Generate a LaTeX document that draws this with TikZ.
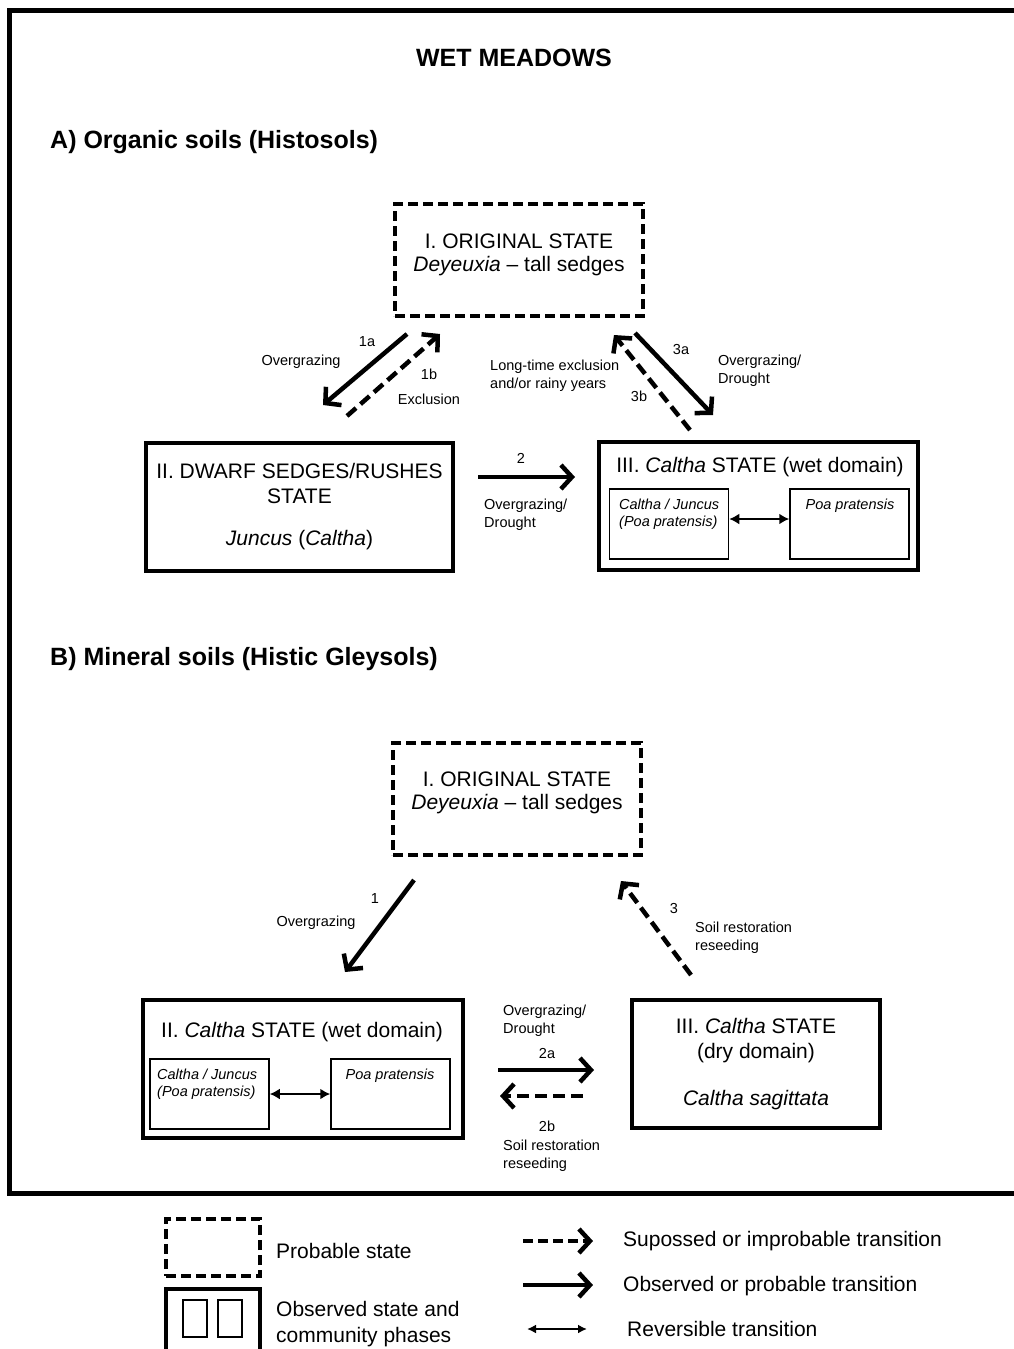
\documentclass[tikz,border=0pt]{standalone}
\usepackage{fontspec}
\setmainfont{Liberation Sans}
\usetikzlibrary{arrows.meta}

\newcommand{\headfont}{\fontsize{25}{30}\selectfont\bfseries}
\newcommand{\statefont}{\fontsize{21}{25}\selectfont}
\newcommand{\lblfont}{\fontsize{14.5}{18}\selectfont}
\newcommand{\phasefont}{\fontsize{14.5}{17}\selectfont\itshape}
\newcommand{\keyfont}{\fontsize{21}{26}\selectfont}

\tikzset{
    probable/.style={draw, line width=4pt, dash pattern=on 10pt off 5pt,
        minimum width=248pt, minimum height=112pt},
    observed/.style={draw, line width=4pt, align=center, font=\statefont},
    phase/.style={draw, line width=1.5pt, minimum width=119pt, minimum height=70pt},
    statetxt/.style={font=\fontsize{21}{23}\selectfont, inner sep=0pt, align=center},
    trans/.style={line width=4.5pt, -{Straight Barb[length=11pt,width=24pt]}},
    supposed/.style={trans, dash pattern=on 12pt off 6pt},
    reversible/.style={line width=2.5pt, {Latex[length=10pt,width=11pt]}-{Latex[length=10pt,width=11pt]}},
    lbl/.style={font=\lblfont, inner sep=0pt, align=left},
    phasetxt/.style={font=\phasefont, inner sep=0pt, align=left},
    keytxt/.style={font=\keyfont, inner sep=0pt, align=left, anchor=west},
}

\begin{document}
\begin{tikzpicture}[x=1pt, y=-1pt]
    \useasboundingbox (0,0) rectangle (1014,1349);
    \clip (0,0) rectangle (1014,1349);
    \draw[line width=4.5pt] (9.5,10.5) rectangle (1040,1193.5);

    \node[font=\headfont, inner sep=0pt] (title) at (514,58) {WET MEADOWS};
    \node[font=\headfont, inner sep=0pt, anchor=west] (headA) at (50,142) {A) Organic soils (Histosols)};
    \node[font=\headfont, inner sep=0pt, anchor=west] (headB) at (50,659) {B) Mineral soils (Histic Gleysols)};

    % A) states
    \node[probable] (a*I) at (519,260) {};
    \node[statetxt] (a*It) at (519,255) {I. ORIGINAL STATE\\\textit{Deyeuxia} -- tall sedges};
    \node[observed, minimum width=307pt, minimum height=128pt] (a*II) at (299.5,507)
        {II. DWARF SEDGES/RUSHES\\STATE\\[17pt]\textit{Juncus} (\textit{Caltha})};
    \node[observed, minimum width=319pt, minimum height=128pt] (a*III) at (758.5,506) {};
    \node[font=\statefont, inner sep=0pt] (a*IIIt) at (760,467) {III. \textit{Caltha} STATE (wet domain)};
    \node[phase] (a*IIIa) at (669,524) {};
    \node[phase] (a*IIIb) at (849.5,524) {};
    \node[phasetxt, anchor=north west] (a*IIIat) at (619,499) {Caltha / Juncus\\(Poa pratensis)};
    \node[phasetxt] (a*IIIbt) at (850,506) {Poa pratensis};

    \coordinate (a*1a-s) at (407,334);  \coordinate (a*1a-e) at (323,405);
    \coordinate (a*1b-s) at (347,416);  \coordinate (a*1b-e) at (440,334);
    \coordinate (a*3a-s) at (635,333);  \coordinate (a*3a-e) at (713,415);
    \coordinate (a*3b-s) at (690,430);  \coordinate (a*3b-e) at (614,335);
    \coordinate (a*2-s)  at (478,477);  \coordinate (a*2-e)  at (575,477);

    % Transitions
    \path
        (a*1a-s) edge [trans] (a*1a-e)
        (a*1b-s) edge [supposed] (a*1b-e)
        (a*3a-s) edge [trans] (a*3a-e)
        (a*3b-s) edge [supposed] (a*3b-e)
        (a*2-s)  edge [trans] (a*2-e)
        ([yshift=5pt]a*IIIa.east) edge [reversible] ([yshift=5pt]a*IIIb.west)
        ;

    \node[lbl] (l1a) at (367,342) {1a};
    \node[lbl] (l1a*) at (301,362) {Overgrazing};
    \node[lbl] (l1b) at (429,374) {1b};
    \node[lbl] (l1b*) at (429,399) {Exclusion};
    \node[lbl] (l3a) at (681,350) {3a};
    \node[lbl, anchor=west] (l3a*) at (718,371) {Overgrazing/\\Drought};
    \node[lbl] (l3b) at (639,396) {3b};
    \node[lbl, anchor=west] (l3b*) at (490,376) {Long-time exclusion\\and/or rainy years};
    \node[lbl] (l2) at (521,458) {2};
    \node[lbl, anchor=west] (l2*) at (484,515) {Overgrazing/\\Drought};

    % B) states
    \node[probable] (b*I) at (517,799) {};
    \node[statetxt] (b*It) at (517,793) {I. ORIGINAL STATE\\\textit{Deyeuxia} -- tall sedges};
    \node[observed, minimum width=320pt, minimum height=138pt] (b*II) at (303,1069) {};
    \node[font=\statefont, inner sep=0pt] (b*IIt) at (302,1032) {II. \textit{Caltha} STATE (wet domain)};
    \node[phase] (b*IIa) at (209.5,1094) {};
    \node[phase] (b*IIb) at (390.5,1094) {};
    \node[phasetxt, anchor=north west] (b*IIat) at (157,1069) {Caltha / Juncus\\(Poa pratensis)};
    \node[phasetxt] (b*IIbt) at (390,1076) {Poa pratensis};
    \node[observed, minimum width=248pt, minimum height=128pt] (b*III) at (756,1064)
        {III. \textit{Caltha} STATE\\(dry domain)\\[22pt]\textit{Caltha sagittata}};

    \coordinate (b*1-s)  at (414,880);  \coordinate (b*1-e)  at (345,972);
    \coordinate (b*3-s)  at (691,975);  \coordinate (b*3-e)  at (621,881);
    \coordinate (b*2a-s) at (498,1070); \coordinate (b*2a-e) at (594,1070);
    \coordinate (b*2b-s) at (583,1096); \coordinate (b*2b-e) at (500,1096);

    % Transitions
    \path
        (b*1-s)  edge [trans] (b*1-e)
        (b*3-s)  edge [supposed] (b*3-e)
        (b*2a-s) edge [trans] (b*2a-e)
        (b*2b-s) edge [supposed] (b*2b-e)
        (b*IIa) edge [reversible] (b*IIb)
        ;

    \node[lbl] (m1) at (375,899) {1};
    \node[lbl] (m1*) at (316,923) {Overgrazing};
    \node[lbl] (m3) at (674,908) {3};
    \node[lbl, anchor=west] (m3*) at (695,938) {Soil restoration\\reseeding};
    \node[lbl] (m2a) at (547,1053) {2a};
    \node[lbl, anchor=west] (m2a*) at (503,1021) {Overgrazing/\\Drought};
    \node[lbl] (m2b) at (547,1126) {2b};
    \node[lbl, anchor=west] (m2b*) at (503,1156) {Soil restoration\\reseeding};

    % Legend
    \node[probable, minimum width=94pt, minimum height=57pt] (k*prob) at (213,1247.5) {};
    \node[keytxt] (k*probt) at (276,1251) {Probable state};
    \node[draw, line width=4pt, minimum width=94pt, minimum height=64pt] (k*obs) at (213,1321) {};
    \node[draw, line width=1.5pt, minimum width=24pt, minimum height=37pt] (k*obsa) at (195,1318.5) {};
    \node[draw, line width=1.5pt, minimum width=24pt, minimum height=37pt] (k*obsb) at (230,1318.5) {};
    \node[keytxt] (k*obst) at (276,1324) {Observed state and\\community phases};

    \coordinate (k*sup-s) at (523,1241);  \coordinate (k*sup-e) at (593,1241);
    \coordinate (k*obs-s) at (523,1285);  \coordinate (k*obs-e) at (593,1285);
    \coordinate (k*rev-s) at (527,1329);  \coordinate (k*rev-e) at (587,1329);
    \path
        (k*sup-s) edge [supposed, dash pattern=on 10pt off 5pt] (k*sup-e)
        (k*obs-s) edge [trans] (k*obs-e)
        (k*rev-s) edge [line width=2pt, {Latex[length=9pt,width=9pt]}-{Latex[length=9pt,width=9pt]}] (k*rev-e)
        ;
    \node[keytxt] (k*supt) at (623,1241) {Supossed or improbable transition};
    \node[keytxt] (k*obst2) at (623,1286) {Observed or probable transition};
    \node[keytxt] (k*revt) at (627,1329) {Reversible transition};
\end{tikzpicture}
\end{document}
